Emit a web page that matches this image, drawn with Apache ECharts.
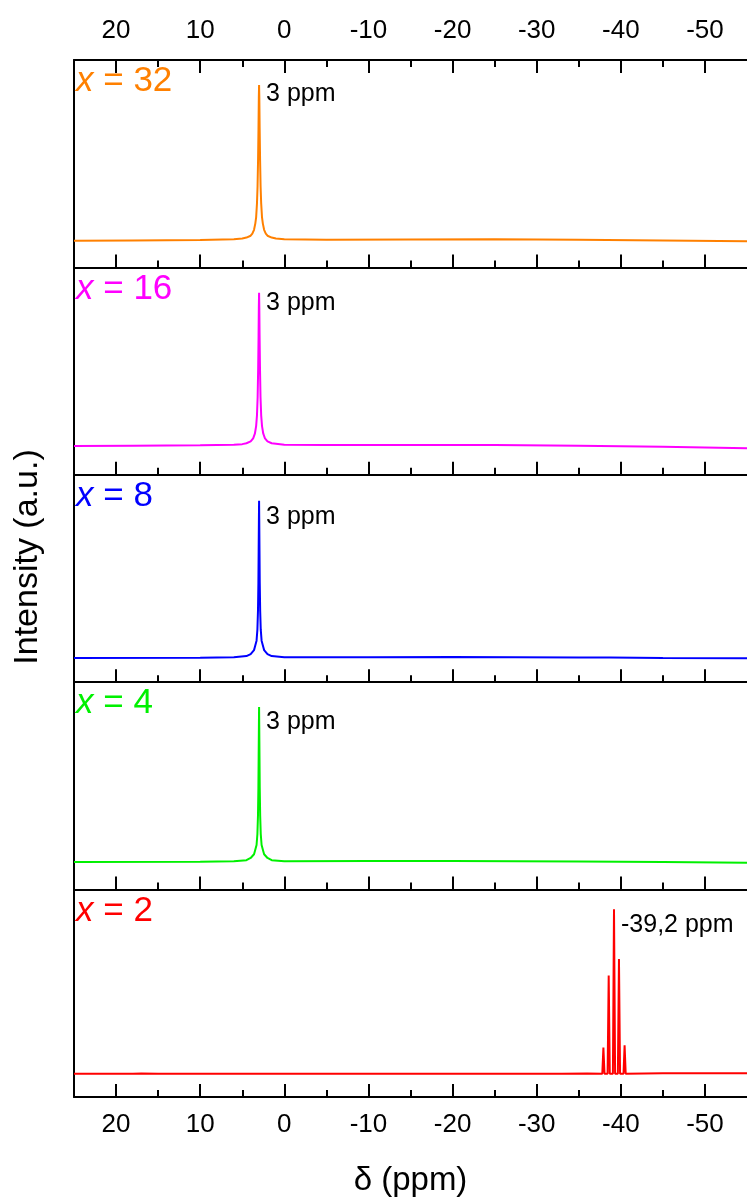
<!DOCTYPE html>
<html>
<head>
<meta charset="utf-8">
<script src="https://cdn.jsdelivr.net/npm/echarts@6/dist/echarts.min.js"></script>
<style>
html,body{margin:0;padding:0;background:#fff;}
#chart{width:747px;height:1198px;}
</style>
</head>
<body>
<div id="chart"></div>
<script>
// ---------- DATA ----------
const sampleLabels = ['32', '16', '8', '4', '2'];
const peakLabels = ['3 ppm', '3 ppm', '3 ppm', '3 ppm', '-39,2 ppm'];
const majorTicks = [20, 10, 0, -10, -20, -30, -40, -50];
const minorTicks = [15, 5, -5, -15, -25, -35, -45];

// x = 32 (orange)
const ppm32 = [25, 18, 10, 6, 5, 4.5, 4.0, 3.8, 3.6, 3.45, 3.35, 3.25, 3.18, 3.12, 3.07, 3.03, 3.0, 2.97, 2.93, 2.88, 2.82, 2.75, 2.65, 2.55, 2.4, 2.2, 2.0, 1.5, 1.0, 0, -5, -15, -25, -35, -45, -55];
const int32 = [0, 0.2, 0.5, 1.0, 1.4, 2.0, 3.2, 4.5, 7, 11, 15, 24, 35, 52, 72, 92, 100, 92, 72, 52, 35, 24, 15, 11, 7, 4.5, 3.2, 2.0, 1.4, 0.9, 0.6, 0.8, 0.9, 0.6, 0.1, -0.4];

// x = 16 (magenta)
const ppm16 = [25, 18, 10, 6, 5, 4.5, 4.0, 3.7, 3.5, 3.35, 3.25, 3.17, 3.11, 3.06, 3.03, 3.0, 2.97, 2.94, 2.89, 2.83, 2.75, 2.65, 2.5, 2.3, 2.0, 1.5, 0, -5, -15, -25, -35, -45, -55];
const int16 = [0, 0.2, 0.4, 0.8, 1.2, 1.8, 3.0, 5, 8, 13, 20, 32, 50, 72, 90, 100, 90, 72, 50, 32, 20, 13, 8, 5, 3.0, 1.8, 0.8, 0.6, 0.7, 0.6, 0.2, -0.5, -1.5];

// x = 8 (blue)
const ppm8 = [25, 10, 6, 4.5, 4.0, 3.6, 3.5, 3.3, 3.2, 3.13, 3.08, 3.05, 3.02, 3.0, 2.98, 2.95, 2.92, 2.87, 2.8, 2.7, 2.5, 2.4, 2.0, 1.5, 0, -10, -20, -35, -37.4, -37.5, -37.6, -38.1, -38.2, -38.3, -38.7, -38.8, -38.9, -45, -55];
const int8 = [0, 0.2, 0.5, 1.2, 2.5, 5, 7, 11, 18, 30, 48, 68, 88, 100, 88, 68, 48, 30, 18, 11, 7, 5, 2.5, 1.2, 0.5, 0.5, 0.6, 0.3, 0.3, 1.0, 0.3, 0.3, 1.0, 0.3, 0.3, 1.0, 0.3, 0, -0.2];

// x = 4 (green)
const ppm4 = [25, 10, 6, 4.5, 4.0, 3.6, 3.5, 3.3, 3.2, 3.13, 3.08, 3.05, 3.02, 3.0, 2.98, 2.95, 2.92, 2.87, 2.8, 2.7, 2.5, 2.4, 2.0, 1.5, 0, -10, -20, -35, -45, -55];
const int4 = [0, 0.2, 0.5, 1.2, 2.6, 5, 7, 11, 18, 30, 48, 68, 88, 100, 88, 68, 48, 30, 18, 11, 7, 5, 2.6, 1.2, 0.5, 0.6, 0.6, 0.3, 0, -0.5];

// x = 2 (red)
const ppm2 = [25, 18, 17, 15, -33, -36, -37.8, -37.93, -38.06, -38.43, -38.56, -38.69, -39.06, -39.19, -39.32, -39.65, -39.78, -39.91, -40.32, -40.45, -40.58, -45, -55];
const int2 = [0, 0, 0.15, 0, 0, 0.15, 0, 15.9, 0, 0, 59.8, 0, 0, 100, 0, 0, 69.8, 0, 0, 17.3, 0, 0.3, 0.3];

const spectraPpm = [ppm32, ppm16, ppm8, ppm4, ppm2];
const spectraInt = [int32, int16, int8, int4, int2];

// ---------- STYLE / LAYOUT ----------
const colors = ['#FF8000', '#FF00FF', '#0000FF', '#00F000', '#FF0000'];
const yRanges = [[-17.15, 116.1], [-18.8, 116.5], [-15.4, 116.5], [-17.8, 116], [-14.2, 112]];
const labelDy = [9, 10, 16, 15, 16];
const FONT = "'Liberation Sans', Arial, sans-serif";
const TOP = 60, PH = 207.4, LEFT = 74, W = 678.4;

const grids = [], xAxes = [], yAxes = [], series = [], titles = [];
for (let i = 0; i < 5; i++) {
  const top = TOP + i * PH;
  grids.push({ left: LEFT, top: top, width: W, height: PH });
  const common = {
    gridIndex: i, type: 'value', min: -55, max: 25, inverse: true,
    splitLine: { show: false }
  };
  ['bottom', 'top'].forEach(pos => {
    const showLab = (pos === 'bottom' && i === 4) || (pos === 'top' && i === 0);
    const showTick = pos === 'bottom' || i === 0;
    const ax = Object.assign({}, common, {
      position: pos,
      axisLine: { show: true, onZero: false, lineStyle: { color: '#000', width: 2 } },
      axisTick: { show: showTick, inside: true, length: 13, customValues: majorTicks, lineStyle: { color: '#000', width: 2 } },
      axisLabel: { show: showLab, customValues: majorTicks, fontSize: 26, color: '#000', fontFamily: FONT, margin: pos === 'bottom' ? 15 : 16 }
    });
    if (pos === 'bottom' && i === 4) {
      ax.name = 'δ (ppm)';
      ax.nameLocation = 'middle';
      ax.nameGap = 67;
      ax.nameTextStyle = { fontSize: 33, color: '#000', fontFamily: FONT };
    }
    xAxes.push(ax);
  });
  ['bottom', 'top'].forEach(pos => {
    const showTick = pos === 'bottom' || i === 0;
    xAxes.push(Object.assign({}, common, {
      position: pos,
      axisLine: { show: false, onZero: false },
      axisTick: { show: showTick, inside: true, length: 7, customValues: minorTicks, lineStyle: { color: '#000', width: 2 } },
      axisLabel: { show: false }
    }));
  });
  yAxes.push({
    gridIndex: i, type: 'value', min: yRanges[i][0], max: yRanges[i][1],
    axisLine: { show: true, onZero: false, lineStyle: { color: '#000', width: 2 } },
    axisTick: { show: false }, axisLabel: { show: false }, splitLine: { show: false }
  });
  const data = spectraPpm[i].map((p, k) => [p, spectraInt[i][k]]);
  series.push({
    type: 'line', xAxisIndex: i * 4, yAxisIndex: i, data: data,
    showSymbol: false, symbol: 'none', animation: false,
    lineStyle: { color: colors[i], width: 2 },
    markPoint: {
      symbol: 'circle', symbolSize: 0, animation: false,
      data: [{ type: 'max' }],
      label: {
        show: true, position: 'right', distance: 7, offset: [0, labelDy[i]],
        formatter: peakLabels[i], fontSize: 25, color: '#000', fontFamily: FONT
      }
    }
  });
  titles.push({
    text: '{i|x} = ' + sampleLabels[i],
    left: 76, top: top + 4, padding: 0,
    textStyle: {
      fontSize: 35, color: colors[i], fontWeight: 'normal', fontFamily: FONT,
      rich: { i: { fontStyle: 'italic', fontSize: 35, color: colors[i], fontFamily: FONT } }
    }
  });
}

const chart = echarts.init(document.getElementById('chart'), null, { renderer: 'canvas' });
chart.setOption({
  animation: false,
  backgroundColor: '#fff',
  title: titles,
  grid: grids,
  xAxis: xAxes,
  yAxis: yAxes,
  series: series,
  graphic: [{
    type: 'text', x: 28, y: 557, rotation: Math.PI / 2,
    style: { text: 'Intensity (a.u.)', fontSize: 34, fill: '#000', fontFamily: FONT, align: 'center', verticalAlign: 'middle' }
  }]
});
</script>
</body>
</html>
